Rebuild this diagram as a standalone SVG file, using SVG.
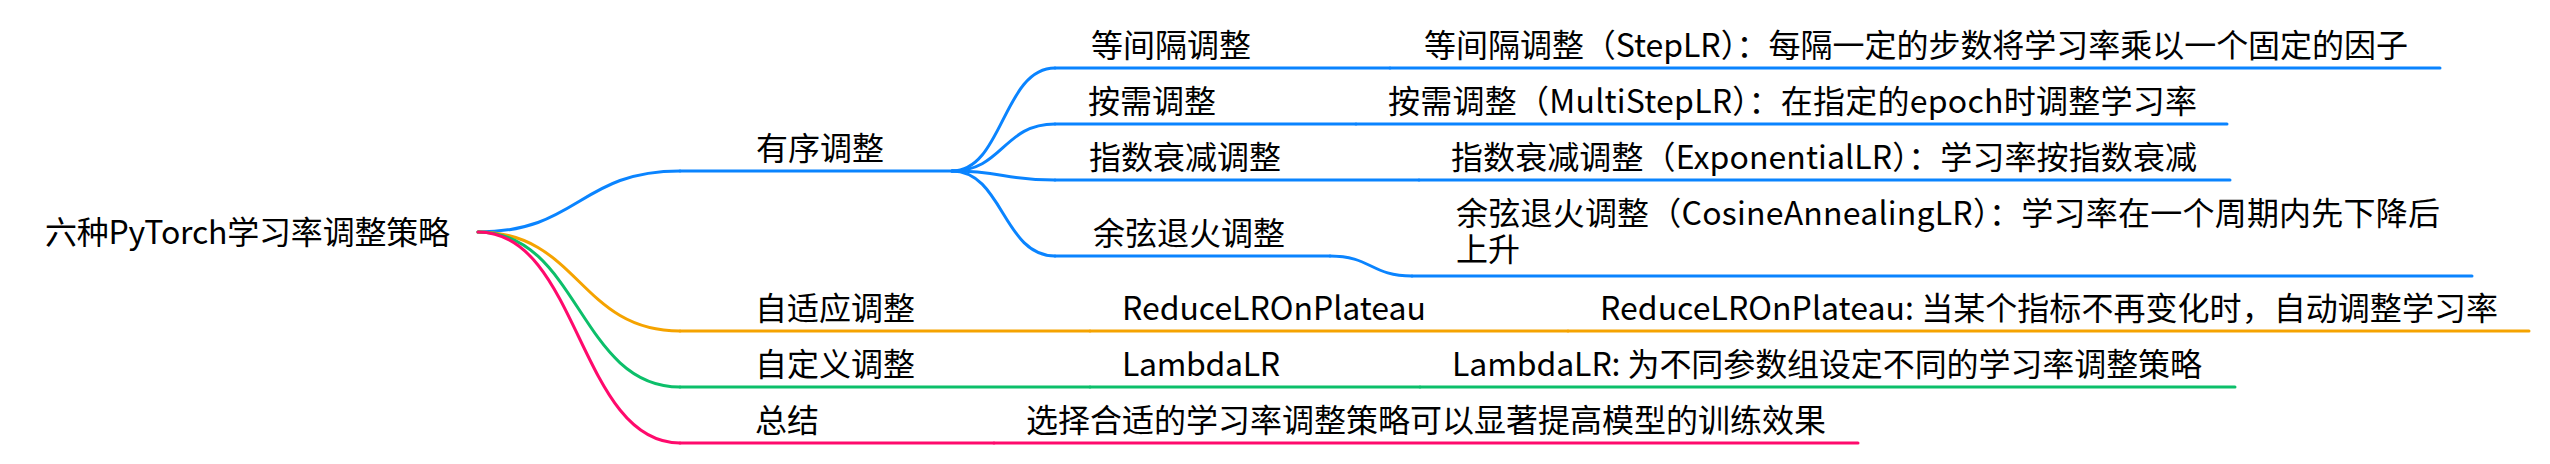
<svg xmlns="http://www.w3.org/2000/svg" width="2550" height="464" viewBox="0 0 2550 464">
<style>
text{font-family:"Noto Sans CJK SC","Noto Sans",sans-serif;font-size:32px;fill:#000}
.c{fill:none;stroke-width:3;stroke-linecap:round}
.b{stroke:#0A84FF}.o{stroke:#F5A300}.g{stroke:#0CBF6A}.p{stroke:#FF0A6C}
</style>
<rect width="2550" height="464" fill="#fff"/>
<g id="connectors">
<path class="c b" d="M478,232 C579,232 579,171 680,171"/>
<path class="c o" d="M478,232 C579,232 579,331 680,331"/>
<path class="c g" d="M478,232 C579,232 579,387 680,387"/>
<path class="c p" d="M478,232 C579,232 579,443 680,443"/>
<path class="c b" d="M952,171 C1003,171 1003,68 1055,68"/>
<path class="c b" d="M952,171 C1003,171 1003,124 1055,124"/>
<path class="c b" d="M952,171 C1003,171 1003,180 1055,180"/>
<path class="c b" d="M952,171 C1003,171 1003,256 1055,256"/>
<path class="c b" d="M1330,256 C1371,256 1371,276 1412,276"/>
</g>
<g id="root"><text x="45" y="244" textLength="405">六种PyTorch学习率调整策略</text></g>
<g id="n-ordered"><path class="c b" d="M680,171 H952"/><text x="756" y="160">有序调整</text></g>
<g id="n-step"><path class="c b" d="M1055,68 H1390"/><text x="1091" y="57">等间隔调整</text></g>
<g id="n-step-d"><path class="c b" d="M1390,68 H2440"/><text x="1424" y="57" textLength="984">等间隔调整（StepLR）：每隔一定的步数将学习率乘以一个固定的因子</text></g>
<g id="n-multi"><path class="c b" d="M1055,124 H1356"/><text x="1088" y="113">按需调整</text></g>
<g id="n-multi-d"><path class="c b" d="M1356,124 H2227"/><text x="1388" y="113" textLength="809">按需调整（MultiStepLR）：在指定的epoch时调整学习率</text></g>
<g id="n-exp"><path class="c b" d="M1055,180 H1419"/><text x="1089" y="169">指数衰减调整</text></g>
<g id="n-exp-d"><path class="c b" d="M1419,180 H2230"/><text x="1451" y="169" textLength="746">指数衰减调整（ExponentialLR）：学习率按指数衰减</text></g>
<g id="n-cos"><path class="c b" d="M1055,256 H1330"/><text x="1093" y="245">余弦退火调整</text></g>
<g id="n-cos-d"><path class="c b" d="M1412,276 H2472"/><text><tspan x="1456" y="225" textLength="984">余弦退火调整（CosineAnnealingLR）：学习率在一个周期内先下降后</tspan><tspan x="1456" y="261">上升</tspan></text></g>
<g id="n-adaptive"><path class="c o" d="M680,331 H1090"/><text x="755" y="320">自适应调整</text></g>
<g id="n-plateau"><path class="c o" d="M1090,331 H1568"/><text x="1122" y="320" textLength="304">ReduceLROnPlateau</text></g>
<g id="n-plateau-d"><path class="c o" d="M1568,331 H2529"/><text x="1600" y="320" textLength="898">ReduceLROnPlateau: 当某个指标不再变化时，自动调整学习率</text></g>
<g id="n-custom"><path class="c g" d="M680,387 H1090"/><text x="755" y="376">自定义调整</text></g>
<g id="n-lambda"><path class="c g" d="M1090,387 H1420"/><text x="1122" y="376" textLength="158">LambdaLR</text></g>
<g id="n-lambda-d"><path class="c g" d="M1420,387 H2235"/><text x="1452" y="376" textLength="750">LambdaLR: 为不同参数组设定不同的学习率调整策略</text></g>
<g id="n-summary"><path class="c p" d="M680,443 H994"/><text x="755" y="432">总结</text></g>
<g id="n-summary-d"><path class="c p" d="M994,443 H1858"/><text x="1026" y="432">选择合适的学习率调整策略可以显著提高模型的训练效果</text></g>
</svg>
